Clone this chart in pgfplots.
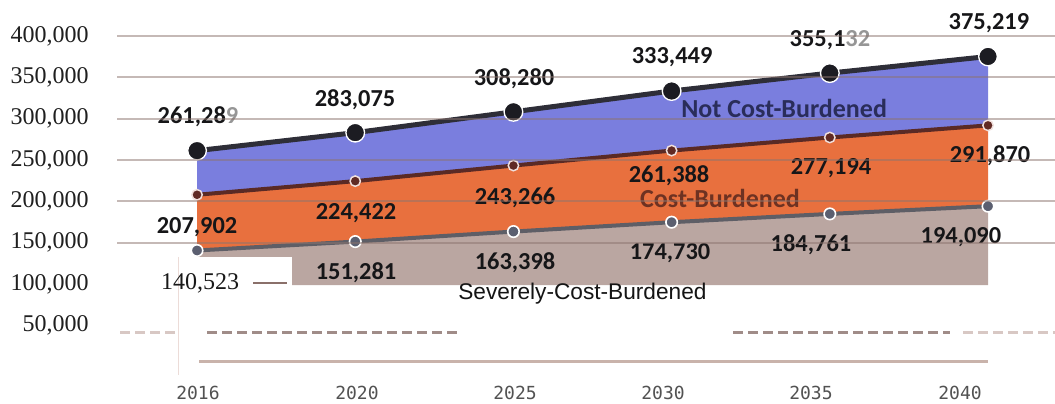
\documentclass[border=0pt]{standalone}
\usepackage{fontspec}
\setmainfont{Liberation Serif}
\newfontfamily\carlito{Carlito}
\newfontfamily\libsans{Liberation Sans}
\newfontfamily\dejamono{DejaVu Sans Mono}
\usepackage{pgfplots}
\usepackage{pgfplotstable}
\pgfplotsset{compat=1.18}
\usepgfplotslibrary{fillbetween}

\definecolor{blueF}{RGB}{122,126,222}
\definecolor{orangeF}{RGB}{232,112,62}
\definecolor{taupeF}{RGB}{186,166,161}
\definecolor{gridC}{RGB}{140,116,110}
\definecolor{dashC}{RGB}{160,140,136}
\definecolor{dashL}{RGB}{216,200,196}
\definecolor{baseC}{RGB}{201,179,171}

\pgfplotstableread{
idx top mid bot base
0 261289 207902 140523 98500
1 283075 224422 151281 98500
2 308280 243266 163398 98500
3 333449 261388 174730 98500
4 355132 277194 184761 98500
5 375219 291870 194090 98500
}\housing

\newcommand{\lab}{\carlito\bfseries\fontsize{18.3}{18.3}\selectfont\color[RGB]{22,22,24}}

\begin{document}
\begin{tikzpicture}
\begin{axis}[
  scale only axis,
  width=703.5pt, height=302.25pt,
  xmin=-0.506, xmax=5.4235,
  ymin=-43990, ymax=443550,
  clip=false,
  axis on top,
  axis line style={draw=none},
  tick style={draw=none},
  ytick={50000,100000,150000,200000,250000,300000,350000,400000},
  yticklabel style={anchor=east, inner sep=0pt, xshift=-21pt,
    font=\fontsize{18}{18}\selectfont, text=black!88,
    /pgf/number format/.cd, fixed, 1000 sep={,}, assume math mode=true},
  scaled y ticks=false,
  extra y ticks={150000,200000,250000,300000,350000,400000},
  extra y tick labels={},
  extra y tick style={grid=major, major grid style={draw=gridC, opacity=0.5, line width=1.5pt}},
  xtick={0.006,1.011,2.010,2.946,3.881,4.823},
  xticklabels={2016,2020,2025,2030,2035,2040},
  xticklabel style={anchor=base, inner sep=0pt, yshift=2.5pt,
    font=\dejamono\fontsize{13.5}{13.5}\selectfont, text=black!68},
]
% areas
\addplot[draw=none, name path=T] table[x=idx, y=top]{\housing};
\addplot[draw=none, name path=M] table[x=idx, y=mid]{\housing};
\addplot[draw=none, name path=B] table[x=idx, y=bot]{\housing};
\addplot[draw=none, name path=Z] table[x=idx, y=base]{\housing};
\addplot[fill=blueF, draw=none] fill between[of=T and M];
\addplot[fill=orangeF, draw=none] fill between[of=M and B];
\addplot[fill=taupeF, draw=none] fill between[of=B and Z];

% white patch over the lower-left part of the grey area
\fill[white] (axis cs:-0.52,92716) rectangle (axis cs:0.60,132640);
\draw[color={rgb,255:red,236;green,220;blue,216}, line width=0.75pt] (axis cs:-0.120,132640) -- (axis cs:-0.120,-10100);

% dashed and solid decorative lines
\draw[dashL, line width=2.25pt, dash pattern=on 7.5pt off 3.75pt] (axis cs:-0.487,41900) -- (axis cs:-0.139,41900);
\draw[dashC, line width=2.25pt, dash pattern=on 7.5pt off 3.75pt] (axis cs:0.063,41900) -- (axis cs:1.662,41900);
\draw[dashC, line width=2.25pt, dash pattern=on 7.5pt off 3.75pt] (axis cs:3.388,41900) -- (axis cs:4.760,41900);
\draw[dashL, line width=2.25pt, dash pattern=on 7.5pt off 3.75pt] (axis cs:4.842,41900) -- (axis cs:5.4235,41900);
\draw[baseC, line width=2.25pt] (axis cs:0.013,5620) -- (axis cs:5.0,5620);

% lines with markers
\addplot[color={rgb,255:red,94;green,94;blue,102}, line width=3pt, mark=*, mark size=4.3pt,
  mark options={fill={rgb,255:red,91;green,95;blue,112}, draw=white, line width=1.2pt}]
  table[x=idx, y=bot]{\housing};
\addplot[color={rgb,255:red,90;green,42;blue,37}, line width=3pt, mark=*, mark size=3.9pt,
  mark options={fill={rgb,255:red,96;green,42;blue,36}, draw={rgb,255:red,240;green,224;blue,221}, line width=1.1pt}]
  table[x=idx, y=mid]{\housing};
\addplot[color={rgb,255:red,46;green,46;blue,56}, line width=3.75pt, mark=*, mark size=7pt,
  mark options={fill={rgb,255:red,28;green,28;blue,34}, draw=white, line width=1pt}]
  table[x=idx, y=top]{\housing};

% value labels
\node[font=\lab] at (axis cs:0.006,302006) {261,28{\color[RGB]{150,150,150}9}};
\node[font=\lab] at (axis cs:0.999,322573) {283,075};
\node[font=\lab] at (axis cs:2.004,347979) {308,280};
\node[font=\lab] at (axis cs:3.003,374594) {333,449};
\node[font=\lab] at (axis cs:4.001,395161) {355,1{\color[RGB]{150,150,150}32}};
\node[font=\lab] at (axis cs:5.006,415727) {375,219};

\node[font=\lab] at (axis cs:0.000,168928) {207,902};
\node[font=\lab] at (axis cs:1.005,185865) {224,422};
\node[font=\lab] at (axis cs:2.010,204012) {243,266};
\node[font=\lab] at (axis cs:2.984,230628) {261,388};
\node[font=\lab] at (axis cs:4.008,240306) {277,194};
\node[font=\lab] at (axis cs:5.013,254824) {291,870};

\node[font=\lab] at (axis cs:1.005,113277) {151,281};
\node[font=\lab] at (axis cs:2.010,125375) {163,398};
\node[font=\lab] at (axis cs:2.990,137473) {174,730};
\node[font=\lab] at (axis cs:3.881,147152) {184,761};
\node[font=\lab] at (axis cs:4.829,156830) {194,090};

\node[font=\fontsize{18}{18}\selectfont, text=black!90] at (axis cs:0.019,101181) {140,523};
\draw[color={rgb,255:red,138;green,112;blue,106}, line width=1.5pt] (axis cs:0.354,101181) -- (axis cs:0.569,101181);

% series names
\node[font=\carlito\bfseries\fontsize{19.5}{19.5}\selectfont, text={rgb,255:red,42;green,45;blue,90}] at (axis cs:3.711,312894) {Not Cost-Burdened};
\node[font=\carlito\bfseries\fontsize{19.5}{19.5}\selectfont, text={rgb,255:red,110;green,50;blue,34}] at (axis cs:3.306,204012) {Cost-Burdened};
\node[font=\libsans\fontsize{17}{17}\selectfont, anchor=west, inner sep=0pt, text=black!92] at (axis cs:1.650,87876) {Severely-Cost-Burdened};
\end{axis}
\pgfresetboundingbox
\path ([xshift=-87.75pt]current axis.south west) rectangle (current axis.north east);
\end{tikzpicture}
\end{document}
